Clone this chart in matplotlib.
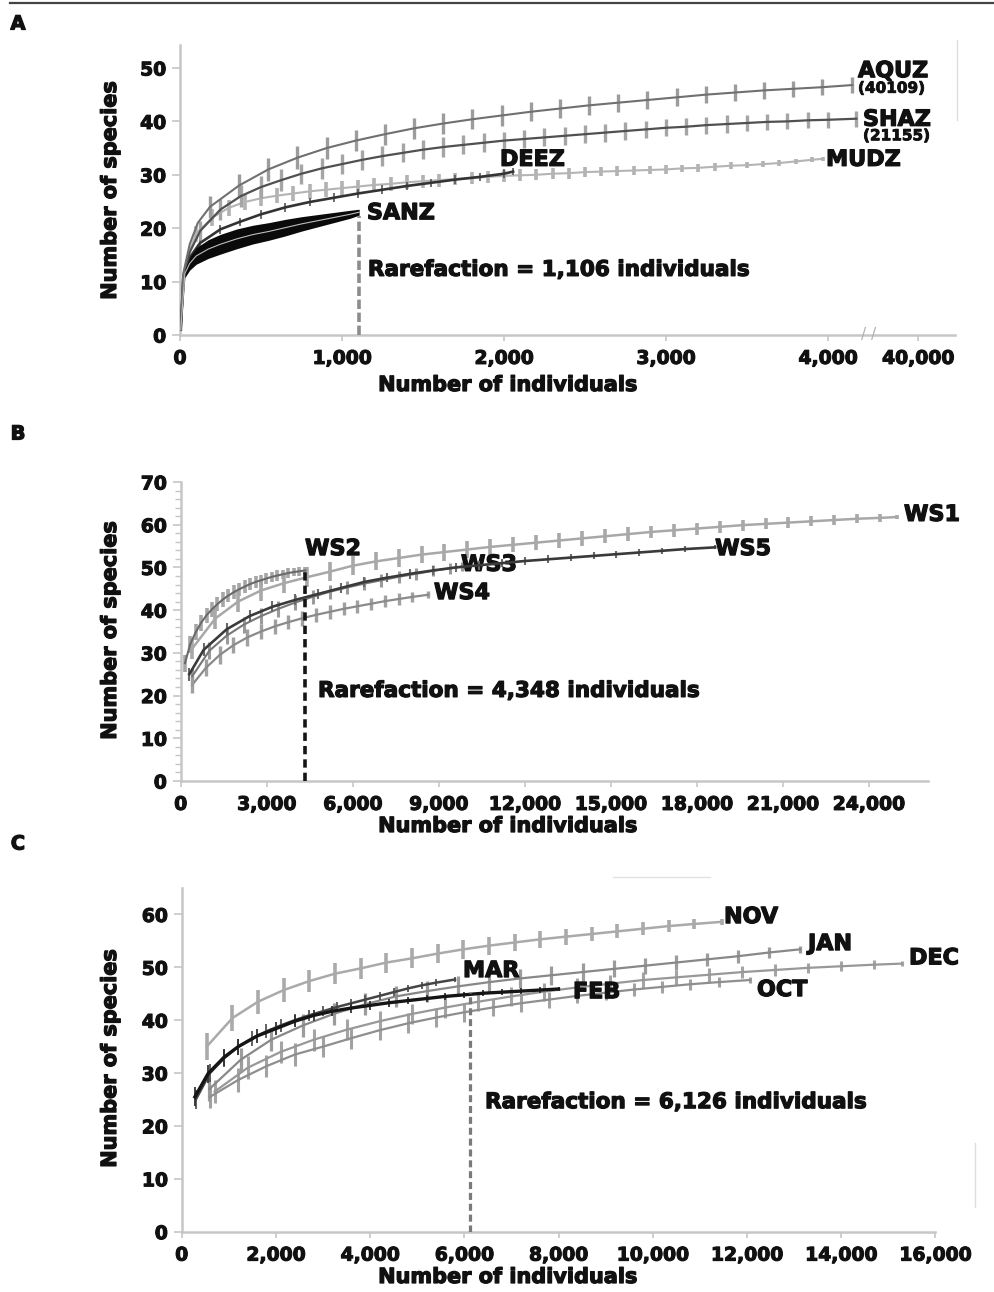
import numpy as np
import matplotlib
matplotlib.use("Agg")
import matplotlib.pyplot as plt
from matplotlib.ticker import FixedLocator, FuncFormatter, MultipleLocator
from matplotlib.lines import Line2D
import matplotlib.transforms as mtransforms
import matplotlib.patheffects as pe

plt.rcParams['font.family'] = ['DejaVu Sans']
plt.rcParams['font.weight'] = 'bold'

# ---------------- Panel A data ----------------
AQUZ_x = [5, 20, 60, 110, 185, 365, 545, 725, 905, 1085, 1265, 1445, 1625, 1805, 1985, 2165, 2345,
          2525, 2705, 2885, 3065, 3245, 3425, 3605, 3785, 3965, 4150]
AQUZ_y = [1, 11.5, 17, 21, 24.0, 28.0, 31.0, 33.2, 35.0, 36.4, 37.6, 38.7, 39.6, 40.4, 41.1, 41.8, 42.4,
          43.0, 43.5, 44.0, 44.5, 45.0, 45.4, 45.8, 46.1, 46.4, 46.8]
AQUZ_e = [0, 0, 0, 0, 2.0, 2.2, 2.2, 2.1, 2.1, 2.0, 2.0, 2.0, 1.9, 1.9, 1.9, 1.8, 1.8,
          1.8, 1.7, 1.7, 1.7, 1.6, 1.6, 1.6, 1.5, 1.5, 1.5]

SHAZ_x = [5, 20, 60, 125, 250, 375, 500, 625, 750, 875, 1000, 1125, 1250, 1375, 1500, 1625, 1750,
          1875, 2000, 2125, 2250, 2375, 2500, 2625, 2750, 2875, 3000, 3125, 3250, 3375, 3500, 3625,
          3750, 3875, 4000, 4175]
SHAZ_y = [1, 11, 15.5, 19.5, 23.5, 26.0, 27.7, 29.0, 30.2, 31.2, 32.0, 32.8, 33.5, 34.1, 34.7, 35.2, 35.6,
          36.0, 36.4, 36.7, 37.0, 37.3, 37.6, 37.9, 38.2, 38.5, 38.8, 39.0, 39.3, 39.5, 39.7, 39.9,
          40.0, 40.2, 40.3, 40.5]
SHAZ_e = [0, 0, 0, 1.8, 2.0, 2.0, 2.0, 2.0, 1.9, 1.9, 1.9, 1.9, 1.9, 1.8, 1.8, 1.8, 1.8,
          1.8, 1.7, 1.7, 1.7, 1.7, 1.7, 1.7, 1.6, 1.6, 1.6, 1.6, 1.6, 1.6, 1.5, 1.5,
          1.5, 1.5, 1.5, 1.5]

MUDZ_x = [5, 20, 50, 100, 200, 300, 400, 500, 600, 700, 800, 900, 1000, 1100, 1200, 1300, 1400,
          1500, 1600, 1700, 1800, 1900, 2000, 2100, 2200, 2300, 2400, 2500, 2600, 2700, 2800, 2900,
          3000, 3100, 3200, 3300, 3400, 3500, 3600, 3700, 3800, 3900, 3969]
MUDZ_y = [1, 11, 15, 19.0, 22.0, 23.8, 24.9, 25.6, 26.1, 26.5, 26.9, 27.2, 27.5, 27.8, 28.1, 28.3, 28.6,
          28.8, 29.0, 29.2, 29.4, 29.6, 29.8, 29.9, 30.0, 30.2, 30.3, 30.5, 30.6, 30.7, 30.8, 30.9,
          31.0, 31.2, 31.3, 31.5, 31.7, 31.8, 32.0, 32.2, 32.5, 32.8, 33.0]
MUDZ_e = [0, 0, 0, 1.5, 1.5, 1.5, 1.5, 1.5, 1.4, 1.4, 1.4, 1.4, 1.4, 1.3, 1.3, 1.3, 1.3,
          1.2, 1.2, 1.2, 1.2, 1.1, 1.1, 1.1, 1.0, 1.0, 1.0, 0.9, 0.9, 0.9, 0.8, 0.8,
          0.8, 0.7, 0.7, 0.7, 0.6, 0.6, 0.6, 0.5, 0.5, 0.5, 0.4]

DEEZ_x = [5, 20, 60, 123, 250, 370, 500, 650, 800, 950, 1100, 1250, 1400, 1550, 1700, 1850, 2000, 2056]
DEEZ_y = [1, 10.5, 14.5, 17.2, 19.8, 21.2, 22.6, 23.9, 24.9, 25.7, 26.5, 27.2, 27.9, 28.5, 29.1, 29.6, 30.2, 30.6]
DEEZ_e = [0, 0, 0, 0.8, 0.8, 0.8, 0.8, 0.8, 0.8, 0.8, 0.8, 0.8, 0.8, 0.8, 0.8, 0.8, 0.8, 0.6]

SANZ_x = [5, 30, 60, 100, 175, 250, 350, 450, 550, 650, 750, 850, 950, 1050, 1106]
SANZ_y = [1, 11.5, 13.4, 14.8, 16.1, 17.0, 18.0, 18.8, 19.4, 20.1, 20.8, 21.4, 22.0, 22.6, 23.0]
SANZ_e = [0, 0.4, 0.9, 1.2, 1.4, 1.5, 1.5, 1.4, 1.3, 1.2, 1.0, 0.8, 0.6, 0.4, 0.2]

A_rarefaction = 1106
A_xticks = [0, 1000, 2000, 3000, 4000, 40000]
A_yticks = [0, 10, 20, 30, 40, 50]

# ---------------- Panel B data ----------------
WS1_x = [400, 1200, 2000, 2800, 3600, 4400, 5200, 6000, 6800, 7600, 8400, 9200, 10000, 10800, 11600,
         12400, 13200, 14000, 14800, 15600, 16400, 17200, 18000, 18800, 19600, 20400, 21200, 22000,
         22800, 23600, 24400, 24977]
WS1_y = [31.0, 38.0, 42.0, 44.6, 46.3, 47.7, 49.0, 50.4, 51.4, 52.2, 53.0, 53.6, 54.2, 54.8, 55.3,
         55.8, 56.3, 56.8, 57.3, 57.8, 58.3, 58.7, 59.1, 59.5, 59.9, 60.2, 60.5, 60.8,
         61.1, 61.4, 61.6, 61.8]
WS1_e = [2.5, 2.5, 2.4, 2.4, 2.3, 2.3, 2.2, 2.2, 2.1, 2.1, 2.0, 2.0, 1.9, 1.9, 1.8,
         1.8, 1.7, 1.7, 1.6, 1.6, 1.5, 1.5, 1.4, 1.4, 1.3, 1.3, 1.2, 1.2,
         1.1, 1.1, 1.0, 0.5]

WS2_x = [150, 330, 520, 710, 900, 1090, 1280, 1470, 1660, 1850, 2040, 2230, 2420, 2610, 2800, 2990,
         3180, 3370, 3560, 3750, 3940, 4130, 4348]
WS2_y = [27.6, 32.0, 34.8, 37.0, 38.8, 40.2, 41.4, 42.5, 43.4, 44.2, 44.9, 45.5, 46.1, 46.6, 47.0, 47.4,
         47.8, 48.1, 48.4, 48.7, 48.9, 49.1, 49.3]
WS2_e = [2.0, 2.0, 1.9, 1.9, 1.8, 1.8, 1.7, 1.7, 1.6, 1.6, 1.5, 1.5, 1.4, 1.4, 1.3, 1.3,
         1.2, 1.2, 1.1, 1.1, 1.0, 1.0, 0.8]

WS3_x = [400, 1000, 1600, 2200, 2800, 3400, 4000, 4600, 5200, 5800, 6400, 7000, 7600, 8200, 8800, 9400, 9800]
WS3_y = [24.5, 30.5, 34.0, 36.6, 38.6, 40.3, 41.8, 43.1, 44.3, 45.3, 46.2, 47.0, 47.8, 48.5, 49.2, 49.8, 50.2]
WS3_e = [2.0, 2.0, 1.9, 1.9, 1.8, 1.8, 1.7, 1.7, 1.6, 1.6, 1.5, 1.5, 1.4, 1.4, 1.3, 1.3, 1.0]

WS4_x = [400, 880, 1360, 1840, 2320, 2800, 3280, 3760, 4240, 4720, 5200, 5680, 6160, 6640, 7120, 7600, 8080, 8630]
WS4_y = [22.5, 26.5, 29.5, 31.8, 33.6, 35.0, 36.2, 37.2, 38.1, 38.9, 39.6, 40.3, 40.9, 41.5, 42.1, 42.6, 43.1, 43.6]
WS4_e = [2.0, 2.0, 2.0, 1.9, 1.9, 1.8, 1.8, 1.7, 1.7, 1.6, 1.6, 1.5, 1.5, 1.4, 1.4, 1.3, 1.2, 0.8]

WS5_x = [300, 800, 1600, 2400, 3200, 4000, 4800, 5600, 6400, 7200, 8000, 8800, 9600, 10400, 11200,
         12000, 12800, 13600, 14400, 15200, 16000, 16800, 17600, 18640]
WS5_y = [25.0, 30.7, 35.5, 38.6, 40.8, 42.4, 43.8, 45.2, 46.6, 47.6, 48.5, 49.3, 50.0, 50.5, 51.0,
         51.5, 51.9, 52.3, 52.7, 53.1, 53.5, 53.9, 54.3, 54.7]
WS5_e = [1.5, 1.5, 1.4, 1.4, 1.3, 1.3, 1.2, 1.2, 1.2, 1.1, 1.1, 1.1, 1.0, 1.0, 1.0,
         0.9, 0.9, 0.9, 0.8, 0.8, 0.8, 0.7, 0.7, 0.5]

B_rarefaction = 4348
B_xticks = [0, 3000, 6000, 9000, 12000, 15000, 18000, 21000, 24000]
B_yticks = [0, 10, 20, 30, 40, 50, 60, 70]

# ---------------- Panel C data ----------------
NOV_x = [531, 1076, 1621, 2166, 2711, 3256, 3801, 4346, 4891, 5436, 5981, 6526, 7071, 7616, 8161,
         8706, 9251, 9796, 10341, 10886, 11465]
NOV_y = [35.0, 40.4, 43.5, 45.7, 47.4, 48.8, 49.8, 50.9, 51.7, 52.6, 53.4, 54.1, 54.7, 55.3, 55.8,
         56.3, 56.8, 57.3, 57.8, 58.2, 58.6]
NOV_e = [2.5, 2.4, 2.3, 2.2, 2.1, 2.0, 2.0, 1.9, 1.9, 1.8, 1.8, 1.7, 1.6, 1.6, 1.5,
         1.4, 1.3, 1.2, 1.1, 1.0, 0.6]

JAN_x = [590, 1250, 1900, 2570, 3230, 3890, 4550, 5210, 5870, 6530, 7190, 7850, 8510, 9170, 9830,
         10490, 11150, 11810, 12470, 13130]
JAN_y = [27.0, 32.5, 36.3, 39.0, 41.2, 43.0, 44.5, 45.5, 46.4, 47.2, 47.9, 48.5, 49.1, 49.7, 50.3,
         50.9, 51.5, 52.1, 52.8, 53.4]
JAN_e = [2.3, 2.3, 2.2, 2.2, 2.1, 2.1, 2.0, 2.0, 1.9, 1.9, 1.8, 1.8, 1.7, 1.6, 1.5,
         1.4, 1.3, 1.2, 1.1, 0.6]

DEC_x = [700, 1400, 2100, 2800, 3500, 4200, 4900, 5600, 6300, 7000, 7700, 8400, 9100, 9800, 10500,
         11200, 11900, 12600, 13300, 14000, 14700, 15287]
DEC_y = [26.5, 31.0, 34.0, 36.3, 38.2, 39.8, 41.2, 42.4, 43.5, 44.5, 45.4, 46.2, 46.9, 47.6, 48.1,
         48.6, 49.1, 49.5, 49.9, 50.2, 50.5, 50.7]
DEC_e = [2.2, 2.2, 2.1, 2.1, 2.0, 2.0, 1.9, 1.9, 1.8, 1.8, 1.7, 1.7, 1.6, 1.5, 1.4,
         1.3, 1.2, 1.1, 1.0, 0.9, 0.8, 0.5]

OCT_x = [600, 1200, 1800, 2400, 3000, 3600, 4200, 4800, 5400, 6000, 6600, 7200, 7800, 8400, 9000,
         9600, 10200, 10800, 11400, 12066]
OCT_y = [25.5, 28.7, 31.3, 33.5, 35.0, 36.6, 38.1, 39.4, 40.5, 41.5, 42.4, 43.2, 43.9, 44.6, 45.2,
         45.8, 46.3, 46.8, 47.2, 47.6]
OCT_e = [2.2, 2.2, 2.1, 2.1, 2.0, 2.0, 1.9, 1.9, 1.8, 1.8, 1.7, 1.6, 1.5, 1.4, 1.3,
         1.2, 1.1, 1.0, 0.9, 0.5]

MAR_x = [300, 600, 900, 1200, 1500, 1800, 2100, 2400, 2700, 3000, 3300, 3600, 3900, 4200, 4500,
         4800, 5100, 5400, 5803]
MAR_y = [25.0, 30.0, 32.8, 35.0, 36.6, 37.9, 39.0, 40.0, 40.9, 41.7, 42.5, 43.2, 43.9, 44.6, 45.3,
         46.0, 46.6, 47.1, 47.7]
MAR_e = [1.8, 1.7, 1.6, 1.5, 1.4, 1.3, 1.2, 1.1, 1.0, 1.0, 0.9, 0.9, 0.8, 0.8, 0.8,
         0.7, 0.7, 0.7, 0.5]

FEB_x = [280, 560, 900, 1200, 1600, 2000, 2400, 2800, 3200, 3600, 4000, 4400, 4800, 5200, 5600,
         6000, 6400, 6800, 7200, 7600, 8000]
FEB_y = [25.5, 29.9, 33.0, 35.0, 37.0, 38.4, 39.8, 40.9, 41.7, 42.3, 42.8, 43.3, 43.7, 44.1, 44.5,
         44.8, 45.1, 45.3, 45.5, 45.7, 45.9]
FEB_e = [1.8, 1.7, 1.6, 1.5, 1.3, 1.2, 1.1, 1.0, 0.9, 0.9, 0.8, 0.8, 0.7, 0.7, 0.7,
         0.6, 0.6, 0.6, 0.5, 0.5, 0.4]

C_rarefaction = 6126
C_xticks = [0, 2000, 4000, 6000, 8000, 10000, 12000, 14000, 16000]
C_yticks = [0, 10, 20, 30, 40, 50, 60]

# ---------------- figure ----------------
W, H = 994, 1292
fig = plt.figure(figsize=(W / 100, H / 100), dpi=100)


def fx(px):
    return px / W


def fy(py):
    return 1 - py / H


AXIS_C = '#c6c6c6'
TICK_FS = 13.5
LAB_FS = 15
CURVE_FS = 16
RARE_FS = 15.5
TXT_C = '#111111'
HEAVY = [pe.withStroke(linewidth=0.9, foreground=TXT_C)]


def style_axes(ax):
    for s in ['top', 'right']:
        ax.spines[s].set_visible(False)
    for s in ['left', 'bottom']:
        ax.spines[s].set_color(AXIS_C)
        ax.spines[s].set_linewidth(1.8)
    ax.tick_params(axis='both', which='major', color=AXIS_C, width=1.2, labelsize=TICK_FS,
                   labelcolor=TXT_C, direction='out')
    ax.tick_params(axis='y', which='major', length=6, pad=4)
    ax.tick_params(axis='x', which='major', length=4, pad=6)
    ax.set_facecolor('white')


comma = FuncFormatter(lambda v, p: f'{int(round(v)):,}')


def curve(ax, x, y, e, lc, lw, bc, bw, z=2):
    ax.errorbar(x, y, yerr=e, fmt='-', color=lc, lw=lw, ecolor=bc, elinewidth=bw,
                capsize=0, zorder=z)


tkw = dict(fontsize=CURVE_FS, fontweight='bold', color=TXT_C, va='center', ha='left',
           path_effects=HEAVY)
skw = dict(fontsize=11, fontweight='bold', color=TXT_C, va='center', ha='left',
           path_effects=[pe.withStroke(linewidth=0.6, foreground=TXT_C)])
rkw = dict(fontsize=RARE_FS, fontweight='bold', color=TXT_C, va='center', ha='left',
           path_effects=HEAVY)

# ---------- Panel A ----------
BRK = 4250.0
K = 306.0 / 35750.0


def fwd(x):
    x = np.asarray(x, dtype=float)
    return np.where(x <= BRK, x, BRK + (x - BRK) * K)


def inv(u):
    u = np.asarray(u, dtype=float)
    return np.where(u <= BRK, u, BRK + (u - BRK) / K)


axA = fig.add_axes([fx(180), fy(335), fx(955) - fx(180), fy(45) - fy(335)])
axA.set_xscale('function', functions=(fwd, inv))
axA.set_xlim(0, inv(4784.0))
axA.set_ylim(0, 54.3)
curve(axA, MUDZ_x, MUDZ_y, MUDZ_e, '#b4b4b4', 1.5, '#b2b2b2', 2.6, z=2)
curve(axA, DEEZ_x, DEEZ_y, DEEZ_e, '#333333', 1.9, '#555555', 1.2, z=3)
curve(axA, SHAZ_x, SHAZ_y, SHAZ_e, '#505050', 1.6, '#a5a5a5', 2.4, z=3)
curve(axA, AQUZ_x, AQUZ_y, AQUZ_e, '#707070', 1.5, '#9c9c9c', 2.4, z=3)
sy = np.array(SANZ_y)
se = np.array(SANZ_e)
axA.fill_between(SANZ_x, sy - se - 0.35, sy + se + 0.35, color='#0a0a0a', lw=0, zorder=4)
axA.plot(SANZ_x, SANZ_y, color='#bdbdbd', lw=0.8, zorder=5)
axA.plot([A_rarefaction, A_rarefaction], [0, SANZ_y[-1] - 0.8], color='#8c8c8c', lw=2.6,
         dashes=(2.6, 1.0), zorder=4)
axA.xaxis.set_major_locator(FixedLocator(A_xticks))
axA.xaxis.set_minor_locator(FixedLocator([]))
axA.xaxis.set_major_formatter(comma)
axA.yaxis.set_major_locator(FixedLocator(A_yticks))
style_axes(axA)
trA = mtransforms.blended_transform_factory(axA.transData, axA.transAxes)
axA.text(BRK, 0.0, '/ /', transform=trA, ha='center', va='center', fontsize=11,
         color='#b0b0b0', fontweight='normal', zorder=6)

axA.text(4185, 49.4, 'AQUZ', **tkw)
axA.text(4185, 46.2, '(40109)', **skw)
axA.text(4216, 40.3, 'SHAZ', **tkw)
axA.text(4216, 37.3, '(21155)', **skw)
axA.text(1975, 32.8, 'DEEZ', **tkw)
axA.text(3988, 32.8, 'MUDZ', **tkw)
axA.text(1154, 22.8, 'SANZ', **tkw)
axA.text(1160, 12.2, 'Rarefaction = 1,106 individuals', **rkw)

# ---------- Panel B ----------
axB = fig.add_axes([fx(180.7), fy(781), fx(928) - fx(180.7), fy(482) - fy(781)])
axB.set_xlim(0, 26066)
axB.set_ylim(0, 70)
curve(axB, WS1_x, WS1_y, WS1_e, '#a8a8a8', 1.8, '#a8a8a8', 2.6, z=2)
curve(axB, WS4_x, WS4_y, WS4_e, '#8a8a8a', 1.6, '#a0a0a0', 2.4, z=2)
curve(axB, WS2_x, WS2_y, WS2_e, '#6a6a6a', 1.5, '#a6a6a6', 2.6, z=3)
curve(axB, WS3_x, WS3_y, WS3_e, '#777777', 1.5, '#9a9a9a', 2.2, z=3)
curve(axB, WS5_x, WS5_y, WS5_e, '#3a3a3a', 1.9, '#6a6a6a', 1.5, z=4)
axB.plot([B_rarefaction, B_rarefaction], [0, WS2_y[-1]], color='#151515', lw=2.6,
         dashes=(2.3, 1.4), zorder=5)
axB.xaxis.set_major_locator(FixedLocator(B_xticks))
axB.xaxis.set_major_formatter(comma)
axB.yaxis.set_major_locator(FixedLocator(B_yticks))
axB.yaxis.set_minor_locator(MultipleLocator(2))
style_axes(axB)
axB.tick_params(axis='y', which='minor', length=4, color=AXIS_C, width=1.0)
axB.text(25228, 62.3, 'WS1', **tkw)
axB.text(4336, 54.3, 'WS2', **tkw)
axB.text(9777, 50.6, 'WS3', **tkw)
axB.text(8835, 44.0, 'WS4', **tkw)
axB.text(18640, 54.3, 'WS5', **tkw)
axB.text(4789, 21.1, 'Rarefaction = 4,348 individuals', **rkw)

# ---------- Panel C ----------
axC = fig.add_axes([fx(181.7), fy(1231.7), fx(935.3) - fx(181.7), fy(888) - fy(1231.7)])
axC.set_xlim(0, 16000)
axC.set_ylim(0, 65)
curve(axC, NOV_x, NOV_y, NOV_e, '#aaaaaa', 1.8, '#aaaaaa', 2.6, z=2)
curve(axC, OCT_x, OCT_y, OCT_e, '#8e8e8e', 1.6, '#a2a2a2', 2.2, z=2)
curve(axC, DEC_x, DEC_y, DEC_e, '#989898', 1.6, '#a4a4a4', 2.2, z=2)
curve(axC, JAN_x, JAN_y, JAN_e, '#888888', 1.6, '#9c9c9c', 2.3, z=2)
curve(axC, MAR_x, MAR_y, MAR_e, '#454545', 1.8, '#555555', 1.3, z=3)
curve(axC, FEB_x, FEB_y, FEB_e, '#151515', 2.4, '#333333', 1.3, z=4)
axC.plot([C_rarefaction, C_rarefaction], [0, 45.3], color='#7a7a7a', lw=2.3,
         dashes=(2.2, 1.2), zorder=5)
axC.xaxis.set_major_locator(FixedLocator(C_xticks))
axC.xaxis.set_major_formatter(comma)
axC.yaxis.set_major_locator(FixedLocator(C_yticks))
style_axes(axC)
axC.text(11514, 59.5, 'NOV', **tkw)
axC.text(13297, 54.4, 'JAN', **tkw)
axC.text(15442, 51.7, 'DEC', **tkw)
axC.text(12214, 45.7, 'OCT', **tkw)
axC.text(8308, 45.3, 'FEB', **tkw)
axC.text(5972, 49.3, 'MAR', **tkw)
axC.text(6440, 24.5, 'Rarefaction = 6,126 individuals', **rkw)

# ---------- axis labels / panel letters ----------
lkw = dict(fontsize=LAB_FS, fontweight='bold', color=TXT_C, ha='center', va='center',
           path_effects=HEAVY)
for yc in [190, 630, 1058]:
    fig.text(fx(110), fy(yc), 'Number of species', rotation=90, **lkw)
for yc in [385, 826, 1277]:
    fig.text(fx(508), fy(yc), 'Number of individuals', **lkw)
for letter, yc in [('A', 24), ('B', 434), ('C', 844)]:
    fig.text(fx(18), fy(yc), letter, fontsize=14, fontweight='bold', color=TXT_C,
             ha='center', va='center', path_effects=HEAVY)

# top rule and stray frame fragments
fig.add_artist(Line2D([fx(10), fx(994)], [fy(2.5), fy(2.5)], color='#444444', lw=1.6))
fig.add_artist(Line2D([fx(957), fx(957)], [fy(40), fy(120)], color='#dddddd', lw=1.0))
fig.add_artist(Line2D([fx(613), fx(710)], [fy(876.5), fy(876.5)], color='#e2e2e2', lw=1.0))
fig.add_artist(Line2D([fx(975), fx(975)], [fy(1143), fy(1207)], color='#dddddd', lw=1.0))

# heavier tick labels
fig.canvas.draw()
tick_pe = [pe.withStroke(linewidth=0.8, foreground=TXT_C)]
for ax in (axA, axB, axC):
    for lab in ax.get_xticklabels() + ax.get_yticklabels():
        lab.set_fontweight('bold')
        lab.set_path_effects(tick_pe)

fig.savefig('out.png', dpi=100, facecolor='white')
